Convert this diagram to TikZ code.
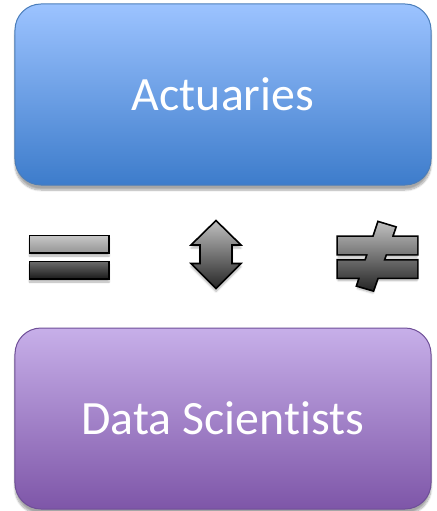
\documentclass[tikz,border=0pt]{standalone}
\usepackage{fontspec}
\setmainfont[Ligatures={NoCommon},RawFeature={-liga;-clig}]{Carlito}
\usetikzlibrary{shadows.blur}
\definecolor{bluetop}{HTML}{9CC3FF}
\definecolor{bluebot}{HTML}{3D7CCB}
\definecolor{blueline}{HTML}{4A7DBA}
\definecolor{purtop}{HTML}{C7AFE9}
\definecolor{purbot}{HTML}{7E56A8}
\definecolor{purline}{HTML}{6F4F98}
\tikzset{
  bigbox/.style={draw, line width=1bp, rounded corners=26bp, minimum width=416bp, minimum height=181bp,
    text=white, font=\fontsize{48}{52}\selectfont, inner sep=0pt,
    blur shadow={shadow xshift=0bp, shadow yshift=-5bp, shadow blur steps=8, shadow opacity=35}},
  bluebox/.style={bigbox, draw=blueline, top color=bluetop, bottom color=bluebot},
  purbox/.style={bigbox, draw=purline, top color=purtop, bottom color=purbot},
  sym/.style={draw=black, line width=1.6bp, line join=miter,
    blur shadow={shadow xshift=0bp, shadow yshift=-3bp, shadow blur steps=5, shadow opacity=30}},
  symstroke/.style={draw=black, line width=3.4bp, line join=miter,
    blur shadow={shadow xshift=0bp, shadow yshift=-3bp, shadow blur steps=5, shadow opacity=30}},
  lightbar/.style={sym, top color=black!22, bottom color=black!42},
  darkbar/.style={sym, top color=black!58, bottom color=black!90},
  gradsym/.style={sym, top color=black!25, bottom color=black!85},
}
\begin{document}
\begin{tikzpicture}[x=1bp,y=-1bp]
\useasboundingbox (0,0) rectangle (437,511);
\node[bluebox] (act) at (223,94.5) {Actuaries};
\node[purbox] (ds) at (223,418.5) {Data Scien\kern0pt ti\kern0pt sts};
% equals
\path[lightbar] (29.5,235.5) rectangle (109,253) ;
\path[darkbar] (29.5,261.5) rectangle (109,279);
% double arrow
\path[gradsym] (216,220.5) -- (241,245) -- (232,245) -- (232,263.5) -- (241,263.5) -- (216,288.5)
  -- (191,263.5) -- (200,263.5) -- (200,245) -- (191,245) -- cycle;
% not equals (union outline)
\path[symstroke]
  (338,237) -- (417,237) -- (417,254) -- (338,254) -- cycle
  (338,260.5) -- (417,260.5) -- (417,277.5) -- (338,277.5) -- cycle
  (378.5,222.5) -- (395,227.5) -- (373,290) -- (357.5,285.5) -- cycle;
\shade[top color=black!25, bottom color=black!85]
  (338,237) -- (417,237) -- (417,254) -- (338,254) -- cycle
  (338,260.5) -- (417,260.5) -- (417,277.5) -- (338,277.5) -- cycle
  (378.5,222.5) -- (395,227.5) -- (373,290) -- (357.5,285.5) -- cycle;
\end{tikzpicture}
\end{document}
